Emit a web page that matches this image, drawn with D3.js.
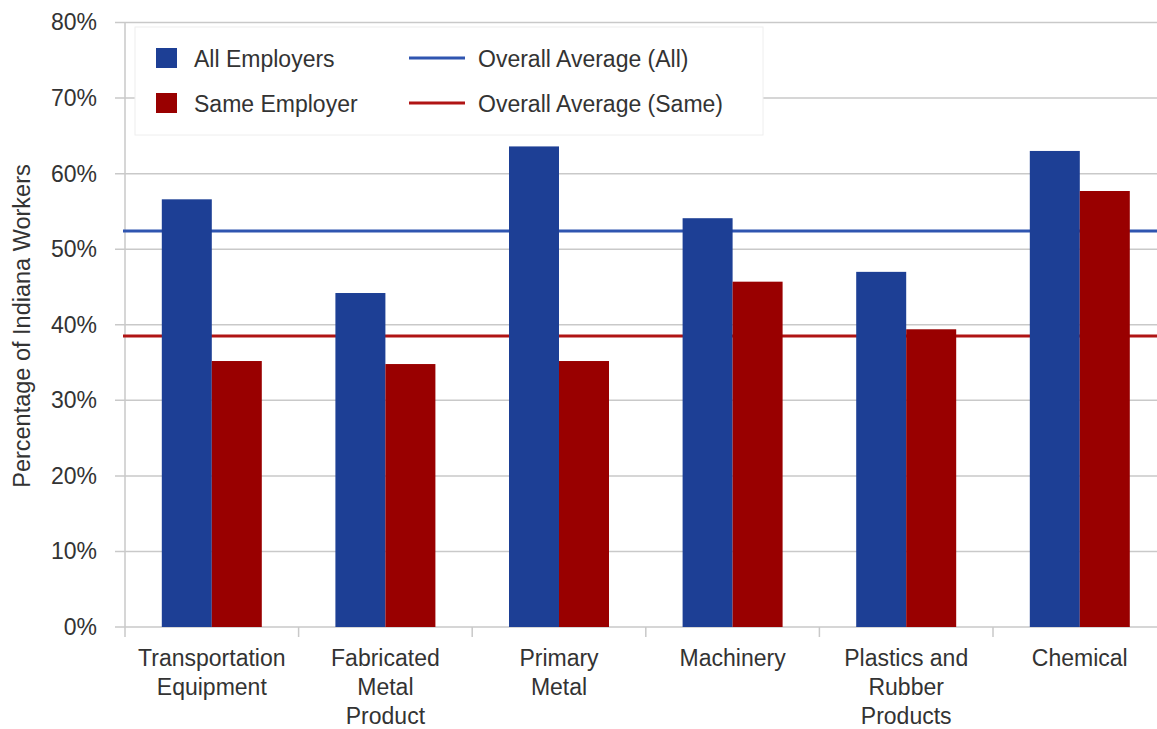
<!DOCTYPE html>
<html>
<head>
<meta charset="utf-8">
<script src="https://cdn.jsdelivr.net/npm/d3@7"></script>
<style>
  body { margin: 0; background: #fff; }
  svg { display: block; font-family: "Liberation Sans", Arial, sans-serif; }
</style>
</head>
<body>
<script>
const categories = [
  ["Transportation", "Equipment"],
  ["Fabricated", "Metal", "Product"],
  ["Primary", "Metal"],
  ["Machinery"],
  ["Plastics and", "Rubber", "Products"],
  ["Chemical"]
];
const seriesNames = ["All Employers", "Same Employer"];
const allEmployers = [56.6, 44.2, 63.6, 54.1, 47.0, 63.0];
const sameEmployer = [35.2, 34.8, 35.2, 45.7, 39.4, 57.7];
const averageNames = ["Overall Average (All)", "Overall Average (Same)"];
const averages = [52.4, 38.5];
const yTicks = [0, 10, 20, 30, 40, 50, 60, 70, 80];

const width = 1157, height = 729;
const colors = ["#1d3f95", "#990000"];
const lineColors = ["#2f55b0", "#b01414"];

const svg = d3.select("body").append("svg")
  .attr("width", width)
  .attr("height", height);

const keys = categories.map(d => d.join(" "));

const x0 = d3.scaleBand()
  .domain(keys)
  .range([125, 1166.6])
  .paddingInner(0.424)
  .paddingOuter(0.212);

const x1 = d3.scaleBand()
  .domain(seriesNames)
  .range([0, x0.bandwidth()]);

const y = d3.scaleLinear()
  .domain([0, 80])
  .range([627, 22.5]);

// gridlines
svg.append("g")
  .selectAll("line")
  .data(yTicks)
  .enter()
  .append("line")
  .attr("x1", 115)
  .attr("x2", width)
  .attr("y1", d => y(d))
  .attr("y2", d => y(d))
  .style("stroke", "#c9c9c9")
  .style("stroke-width", 1.5);

// y axis line
svg.append("line")
  .attr("x1", 125).attr("x2", 125)
  .attr("y1", y(80)).attr("y2", y(0))
  .style("stroke", "#c9c9c9")
  .style("stroke-width", 1.5);

// y tick labels
const yAxis = d3.axisLeft(y)
  .tickValues(yTicks)
  .tickSize(0)
  .tickPadding(0)
  .tickFormat(d => d + "%");

const yg = svg.append("g")
  .attr("transform", "translate(97,0)")
  .call(yAxis);
yg.select(".domain").remove();
yg.selectAll("text")
  .style("font-size", "23px")
  .style("fill", "#333")
  .attr("font-family", null);

// x axis ticks at band boundaries
const step = x0.step();
svg.append("g")
  .selectAll("line")
  .data(keys)
  .enter()
  .append("line")
  .attr("x1", d => x0(d) - (step - x0.bandwidth()) / 2)
  .attr("x2", d => x0(d) - (step - x0.bandwidth()) / 2)
  .attr("y1", y(0))
  .attr("y2", y(0) + 10)
  .style("stroke", "#c9c9c9")
  .style("stroke-width", 1.5);

// x labels
const labels = svg.append("g")
  .selectAll("text")
  .data(categories)
  .enter()
  .append("text")
  .attr("x", (d, i) => x0(keys[i]) + x0.bandwidth() / 2)
  .attr("y", 666)
  .attr("text-anchor", "middle")
  .style("font-size", "23px")
  .style("fill", "#333");
labels.selectAll("tspan")
  .data(d => d)
  .enter()
  .append("tspan")
  .attr("x", function() { return d3.select(this.parentNode).attr("x"); })
  .attr("dy", (d, i) => i === 0 ? 0 : 29)
  .text(d => d);

// legend box (covers gridlines)
svg.append("rect")
  .attr("x", 135).attr("y", 27)
  .attr("width", 628).attr("height", 108)
  .style("fill", "#fff")
  .style("stroke", "#eeeeee")
  .style("stroke-width", 1);

// average lines
svg.append("g")
  .selectAll("line")
  .data(averages)
  .enter()
  .append("line")
  .attr("x1", 123)
  .attr("x2", width)
  .attr("y1", d => y(d))
  .attr("y2", d => y(d))
  .style("stroke", (d, i) => lineColors[i])
  .style("stroke-width", 3);

// bars
const seriesValues = [allEmployers, sameEmployer];
const groups = svg.append("g")
  .selectAll("g")
  .data(keys)
  .enter()
  .append("g")
  .attr("transform", d => "translate(" + x0(d) + ",0)");

groups.selectAll("rect")
  .data((d, i) => seriesNames.map((s, j) => ({ s: s, v: seriesValues[j][i], j: j })))
  .enter()
  .append("rect")
  .attr("x", d => x1(d.s))
  .attr("y", d => y(d.v))
  .attr("width", x1.bandwidth())
  .attr("height", d => y(0) - y(d.v))
  .style("fill", d => colors[d.j]);

// legend items
const legend = svg.append("g");
seriesNames.forEach((s, i) => {
  legend.append("rect")
    .attr("x", 156).attr("y", 48 + i * 45)
    .attr("width", 21).attr("height", 20)
    .style("fill", colors[i]);
  legend.append("text")
    .attr("x", 194).attr("y", 59 + i * 45)
    .attr("dy", "0.35em")
    .style("font-size", "23px")
    .style("fill", "#333")
    .text(s);
});
averageNames.forEach((s, i) => {
  legend.append("line")
    .attr("x1", 409).attr("x2", 465)
    .attr("y1", 58 + i * 45).attr("y2", 58 + i * 45)
    .style("stroke", lineColors[i])
    .style("stroke-width", 3);
  legend.append("text")
    .attr("x", 478).attr("y", 59 + i * 45)
    .attr("dy", "0.35em")
    .style("font-size", "23px")
    .style("fill", "#333")
    .text(s);
});

// y axis title
svg.append("text")
  .attr("transform", "translate(30,326) rotate(-90)")
  .attr("text-anchor", "middle")
  .style("font-size", "23.5px")
  .style("fill", "#333")
  .text("Percentage of Indiana Workers");
</script>
</body>
</html>
